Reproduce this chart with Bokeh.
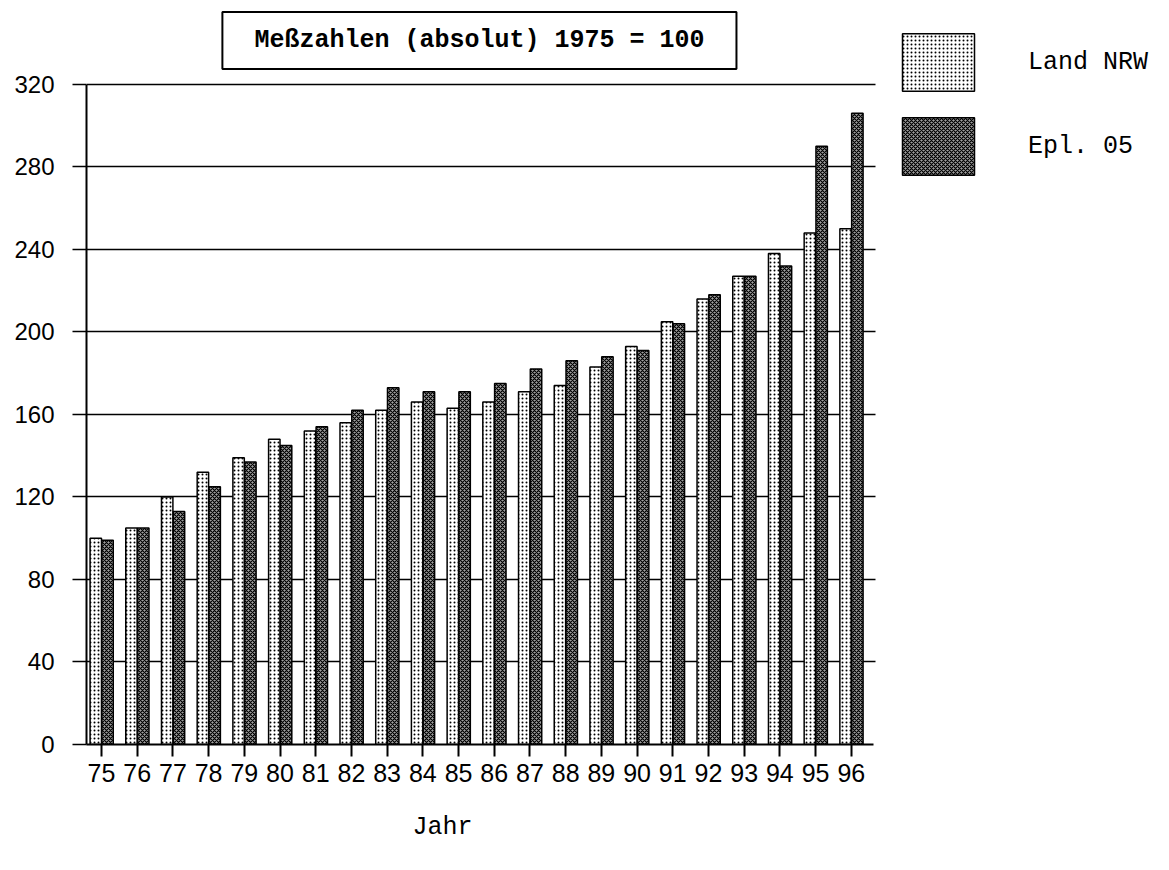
from bokeh.plotting import figure
from bokeh.models import (ColumnDataSource, Range1d, FixedTicker, Label, Legend,
                          LegendItem, Title)
from bokeh.transform import dodge
from bokeh.embed import file_html
from bokeh.resources import INLINE

# ---- data ----
years = ["75", "76", "77", "78", "79", "80", "81", "82", "83", "84", "85",
         "86", "87", "88", "89", "90", "91", "92", "93", "94", "95", "96"]
land_nrw = [100, 105, 120, 132, 139, 148, 152, 156, 162, 166, 163,
            166, 171, 174, 183, 193, 205, 216, 227, 238, 248, 250]
epl_05 = [99, 105, 113, 125, 137, 145, 154, 162, 173, 171, 171,
          175, 182, 186, 188, 191, 204, 218, 227, 232, 290, 306]
y_ticks = [0, 40, 80, 120, 160, 200, 240, 280, 320]
title_text = "Meßzahlen (absolut) 1975 = 100"
series_names = ["Land NRW", "Epl. 05"]
x_title = "Jahr"

xs = list(range(len(years)))
source = ColumnDataSource(dict(x=xs, nrw=land_nrw, epl=epl_05))

X0, X1 = -0.42, 21.62          # extent of the chart area on the x axis
Y_TOP = 320

p = figure(frame_width=1079, frame_height=738,
           x_range=Range1d(X0, 29.80), y_range=Range1d(0, 357.8),
           output_backend="svg", toolbar_location=None,
           min_border_left=86, min_border_right=0,
           min_border_top=6, min_border_bottom=122,
           outline_line_color=None, background_fill_color="white",
           border_fill_color="white")

# y axis
p.yaxis.ticker = FixedTicker(ticks=y_ticks)
p.yaxis.bounds = (0, Y_TOP)
p.yaxis.major_label_text_font = "Liberation Sans"
p.yaxis.major_label_text_font_size = "24px"
p.yaxis.major_label_text_color = "black"
p.yaxis.axis_line_width = 2
p.yaxis.axis_line_color = "black"
p.yaxis.major_tick_line_width = 1.5
p.yaxis.major_tick_line_color = "black"
p.yaxis.major_tick_out = 14
p.yaxis.major_tick_in = 0
p.yaxis.minor_tick_out = 0
p.yaxis.minor_tick_in = 0
p.yaxis.major_label_standoff = 18

# x axis
p.xaxis.ticker = FixedTicker(ticks=xs)
p.xaxis.bounds = (X0, X1)
p.xaxis.major_label_overrides = {i: y for i, y in zip(xs, years)}
p.xaxis.major_label_text_font = "Liberation Sans"
p.xaxis.major_label_text_font_size = "25px"
p.xaxis.major_label_text_color = "black"
p.xaxis.axis_line_width = 2
p.xaxis.axis_line_color = "black"
p.xaxis.major_tick_line_width = 2
p.xaxis.major_tick_line_color = "black"
p.xaxis.major_tick_out = 12
p.xaxis.major_tick_in = 0
p.xaxis.minor_tick_out = 0
p.xaxis.minor_tick_in = 0
p.xaxis.major_label_standoff = 7

p.xgrid.grid_line_color = None
p.ygrid.grid_line_color = "black"
p.ygrid.grid_line_width = 1.5
p.ygrid.bounds = (0, Y_TOP)
p.ygrid.cross_bounds = (X0, X1 + 0.06)

r1 = p.vbar(x=dodge("x", -0.16), top="nrw", width=0.32, source=source,
            fill_color="white", line_color="black", line_width=1.5,
            hatch_pattern="dot", hatch_scale=4, hatch_weight=2.5, hatch_color="black")
r2 = p.vbar(x=dodge("x", 0.17), top="epl", width=0.32, source=source,
            fill_color="#a0a0a0", line_color="black", line_width=1.5,
            hatch_pattern="x", hatch_scale=4, hatch_weight=1.2, hatch_color="black")

legend = Legend(items=[LegendItem(label=series_names[0], renderers=[r1]),
                       LegendItem(label=series_names[1], renderers=[r2])],
                location=(807, 562), margin=0, padding=0,
                glyph_width=90, glyph_height=72, spacing=12, label_standoff=45,
                label_text_font="Liberation Mono", label_text_font_size="25px",
                label_text_color="black",
                border_line_color=None, background_fill_alpha=0)
p.add_layout(legend)

title = Label(x=10.585, y=341.3, text=title_text, text_align="center",
              text_baseline="middle", text_font="Liberation Mono",
              text_font_size="25px", text_font_style="bold", text_color="black",
              border_line_color="black", border_line_width=2,
              background_fill_color="white", padding=(32, 14))
p.add_layout(title)

p.add_layout(Title(text=x_title, align="left", offset=326,
                   text_font="Liberation Mono", text_font_size="25px",
                   text_font_style="normal", text_color="black",
                   standoff=53), "below")

open("out.html", "w").write(file_html(p, INLINE))
